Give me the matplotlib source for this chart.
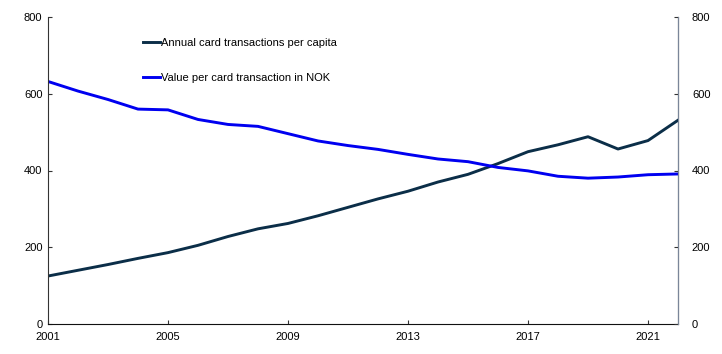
import matplotlib.pyplot as plt

years = list(range(2001, 2023))
transactions_per_capita = [125, 140, 155, 171, 186, 205, 228, 248, 262, 282, 304, 326,
                           346, 370, 390, 418, 449, 467, 488, 456, 478, 531]
value_per_transaction = [632, 607, 585, 560, 558, 533, 520, 515, 496, 477, 465, 455,
                         442, 430, 423, 408, 399, 385, 380, 383, 389, 391]
xticks = [2001, 2005, 2009, 2013, 2017, 2021]
yticks = [0, 200, 400, 600, 800]

plt.rcParams['font.family'] = ['Liberation Sans', 'DejaVu Sans']

fig = plt.figure(figsize=(7.22, 3.54), dpi=100)
ax = fig.add_axes([48 / 722, 30 / 354, 630 / 722, 307 / 354])

ax.plot(years, transactions_per_capita, color='#0b2e48', lw=2.1,
        label='Annual card transactions per capita')
ax.plot(years, value_per_transaction, color='#0000f0', lw=2.1,
        label='Value per card transaction in NOK')

ax.set_xlim(2001, 2022)
ax.set_ylim(0, 800)
ax.set_xticks(xticks)
ax.set_yticks(yticks)

ax2 = ax.twinx()
ax2.set_ylim(0, 800)
ax2.set_yticks(yticks)

for a in (ax, ax2):
    a.spines['top'].set_visible(False)
    a.tick_params(labelsize=8, direction='in', length=3, colors='#333333',
                  labelcolor='black')
ax.spines['left'].set_color('#333333')
ax.spines['bottom'].set_color('#111111')
ax2.spines['right'].set_color('#7a8699')
ax2.spines['left'].set_visible(False)
ax2.spines['bottom'].set_visible(False)
ax.tick_params(axis='x', pad=6)
ax.tick_params(axis='y', pad=4)
ax2.tick_params(axis='y', pad=10)

leg = ax.legend(loc='upper left', bbox_to_anchor=(0.135, 0.965), frameon=False,
                fontsize=8, handlelength=1.5, handletextpad=0.1, labelspacing=2.25)

fig.savefig('out.png', dpi=100)
